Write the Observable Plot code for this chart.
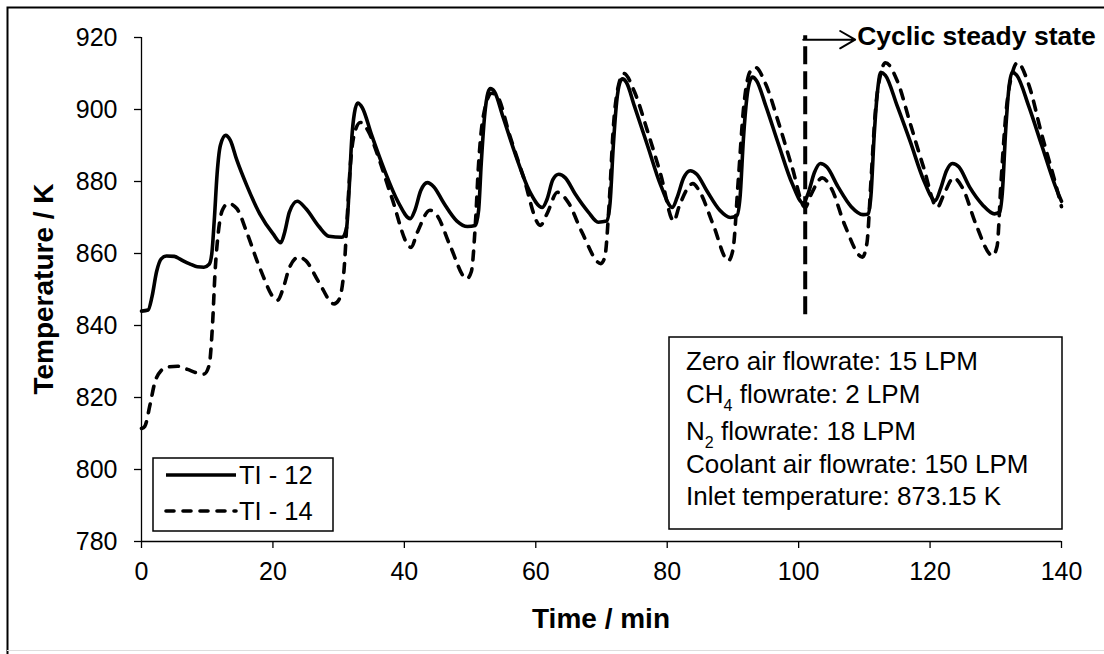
<!DOCTYPE html>
<html><head><meta charset="utf-8">
<script src="https://cdn.jsdelivr.net/npm/d3@7"></script>
<script src="https://cdn.jsdelivr.net/npm/@observablehq/plot@0.6"></script>
<style>body{margin:0;background:#fff;} #chart svg{display:block;}</style>
</head><body><div id="chart"></div>
<script>
// ---- data ----
const seriesNames = ["TI - 12", "TI - 14"];
const ti12Time = [0,1,1.6,2.3,3,3.8,5,5.8,6.5,7.5,8.5,9.5,10.3,10.7,11.1,11.5,12,12.8,13.5,14.5,16,18,20,21.2,21.8,22.5,23.7,25,27,28.5,30.5,31.2,31.6,32,32.4,32.9,33.6,35,37,39,40.9,41.6,42.5,43.5,44.5,46,48,49.6,50.8,51.3,51.7,52.2,52.7,53.1,53.7,55,57,59,61,61.7,62.6,63.5,64.5,66,68,69.5,70.8,71.3,71.8,72.3,72.8,73.2,73.8,75,77,79,80.8,81.5,82.5,83.5,84.5,86,88,89.6,90.6,91.1,91.6,92.1,92.6,93,93.6,95,97,99,100.7,101.5,102.4,103.3,104.3,106,108,109.8,110.6,111,111.5,112,112.5,113.2,115,117,119,120.8,121.6,122.5,123.4,124.4,126,128,129.8,130.6,131,131.5,132,132.5,133.2,135,137,139,140];
const ti12Temp = [844,844.3,848,855,858.5,859.3,859.2,858.5,857.8,857,856.3,856.2,857,860,870,882,890,892.8,891.5,886,879,871,865.5,863,866,871.5,874.5,872.5,867.5,864.8,864.5,867,878,892,899,901.8,900.5,893,883,874.5,869.7,872,877.5,879.7,878.5,874,869,867.5,867.8,872,885,898,904.5,905.8,905,898,887,877.5,872.8,875,880.5,882,881,876.5,871.5,868.7,869,874,890,902,907.5,908.5,907.5,901,890,879,872.8,875.5,881,883,882,877.5,872,870,870.5,876,892,903,908,909,908,901,890,879.5,874,877,882.5,885,884,878.5,873,870.8,871,876,893,905,910.3,909.5,901,891,880.5,874.7,878,883,885,884,878.5,873.5,871,871.5,877,894,906,910.3,909.5,901,890,879,874.5];
const ti14Time = [0,0.5,1.3,2,3,4,5.5,7,8.5,9.5,10.3,10.8,11.2,11.7,12.3,13.2,14.5,16,18,20.7,21.5,22.5,23.9,25,27,29.3,30,30.8,31.3,31.8,32.5,33.3,34.5,36,38,41,42,43.9,45,47,49.5,50.2,50.8,51.3,52,53.3,54.2,56,58,60.7,61.7,63.3,65,67,69.9,70.5,71.2,71.8,72.5,73.4,75,77,79,81,81.8,83.9,85,87,89.3,90,90.8,91.6,92.6,93.4,95,97,99,101,101.8,103.6,105,107,109.7,110.4,111,111.7,112.5,113.2,115,117,119,121.1,122,123.6,125,127,129.5,130.2,130.8,131.6,132.5,133.3,135,137,139,140];
const ti14Temp = [811.4,812,818,824,827.5,828.5,828.7,827.8,826.8,826.5,829,840,855,866,872,873.9,872.5,866,856,847,850,856,859,858,852,846,847,855,870,885,894,896.4,894,887,876,861.7,866,872,870.5,862,853,855,868,885,898,904.5,903.5,893,882,867.8,871,877,874,866,857.2,859,875,895,906,910,905,894,882,869,873,879.4,877,868,858,861,880,900,910.5,911.7,907,896,884,872.8,876,881,878,868,859,863,880,900,910,913,908,896,884,872.8,876,881,878,868,859.4,862,880,900,910,913,907,893,880,873];
const xTicks = [0, 20, 40, 60, 80, 100, 120, 140];
const yTicks = [780, 800, 820, 840, 860, 880, 900, 920];
const xTitle = "Time / min";
const yTitle = "Temperature / K";
const steadyLabel = "Cyclic steady state";
const steadyTime = 101;
const steadyArrowEnd = 108.6;
const steadyLineBottom = 843;
const infoLines = ["Zero air flowrate: 15 LPM", "CH_4 flowrate: 2 LPM", "N_2 flowrate: 18 LPM", "Coolant air flowrate: 150 LPM", "Inlet temperature: 873.15 K"];

// ---- build tables ----
const ti12 = ti12Time.map((t, i) => ({t, T: ti12Temp[i]}));
const ti14 = ti14Time.map((t, i) => ({t, T: ti14Temp[i]}));

const FONT = "'Liberation Sans', Arial, sans-serif";
const W = 1104, H = 654;

const plot = Plot.plot({
  width: W, height: H,
  marginLeft: 141, marginRight: 43, marginTop: 37, marginBottom: 113,
  x: {domain: [0, 140]},
  y: {domain: [780, 920]},
  style: {fontFamily: FONT, fontSize: "25px", color: "#000", background: "#fff", overflow: "visible"},
  marks: [
    Plot.axisX({ticks: xTicks, tickSize: 7, tickPadding: 14, label: null, strokeWidth: 1.3, fontSize: 25}),
    Plot.axisY({ticks: yTicks, tickSize: 7, tickPadding: 17, label: null, strokeWidth: 1.3, fontSize: 25}),
    Plot.ruleX([0], {stroke: "#000", strokeWidth: 1.3}),
    Plot.ruleY([780], {stroke: "#000", strokeWidth: 1.3}),
    Plot.line(ti12, {x: "t", y: "T", stroke: "#000", strokeWidth: 3.6, curve: "monotone-x"}),
    Plot.line(ti14, {x: "t", y: "T", stroke: "#000", strokeWidth: 3.6, curve: "monotone-x", strokeDasharray: "9,9", strokeLinecap: "round"}),
    Plot.ruleX([steadyTime], {y1: steadyLineBottom, y2: 920.5, stroke: "#000", strokeWidth: 4, strokeDasharray: "18,7"}),
    Plot.arrow([{x1: steadyTime - 0.3, x2: steadyArrowEnd, y: 919.4}], {x1: "x1", x2: "x2", y1: "y", y2: "y", stroke: "#000", strokeWidth: 2, headLength: 14}),
    Plot.text([steadyLabel], {x: steadyArrowEnd + 0.3, y: 919.4, text: d => d, textAnchor: "start", fontWeight: "bold", fontSize: 26.5, dy: -3, fill: "#000"})
  ]
});
document.getElementById("chart").appendChild(plot);

// ---- decorations: frame, titles, legend, info box ----
const svg = d3.select(plot);
const g = svg.append("g").attr("font-family", FONT).attr("fill", "#000").attr("text-anchor", "start");

g.append("path").attr("d", `M7.5,${H} V7.5 H${W}`).attr("fill", "none").attr("stroke", "#000").attr("stroke-width", 2);
g.append("line").attr("x1", 7).attr("x2", W).attr("y1", 650.5).attr("y2", 650.5).attr("stroke", "#ddd").attr("stroke-width", 1);

g.append("text").attr("x", 601).attr("y", 628).attr("text-anchor", "middle")
  .attr("font-size", 28).attr("font-weight", "bold").text(xTitle);
g.append("text").attr("transform", "translate(53,289) rotate(-90)").attr("text-anchor", "middle")
  .attr("font-size", 28).attr("font-weight", "bold").text(yTitle);

// legend
const lg = g.append("g");
lg.append("rect").attr("x", 153).attr("y", 458).attr("width", 180).attr("height", 73)
  .attr("fill", "#fff").attr("stroke", "#000").attr("stroke-width", 1.5);
const legendRows = [{y: 475, dash: null}, {y: 511, dash: "8,9"}];
seriesNames.forEach((name, i) => {
  const r = legendRows[i];
  const ln = lg.append("line").attr("x1", 166).attr("x2", 236).attr("y1", r.y).attr("y2", r.y)
    .attr("stroke", "#000").attr("stroke-width", 3.6);
  if (r.dash) ln.attr("stroke-dasharray", r.dash).attr("stroke-linecap", "round");
  lg.append("text").attr("x", 239).attr("y", r.y + 9).attr("text-anchor", "start").attr("font-size", 25.5).text(name);
});

// info box
const ib = g.append("g");
ib.append("rect").attr("x", 669).attr("y", 337).attr("width", 393).attr("height", 192)
  .attr("fill", "#fff").attr("stroke", "#000").attr("stroke-width", 1.5);
const baselines = [370, 403, 440, 473, 505];
infoLines.forEach((line, i) => {
  const t = ib.append("text").attr("x", 686).attr("y", baselines[i]).attr("text-anchor", "start").attr("font-size", 26);
  const parts = line.split(/(_\d)/).filter(p => p);
  let shifted = false;
  parts.forEach(p => {
    if (p.startsWith("_")) {
      t.append("tspan").attr("font-size", 16).attr("dy", 8).text(p.slice(1));
      shifted = true;
    } else {
      const sp = t.append("tspan").text(p);
      if (shifted) { sp.attr("dy", -8); shifted = false; }
    }
  });
});
</script>
</body></html>
